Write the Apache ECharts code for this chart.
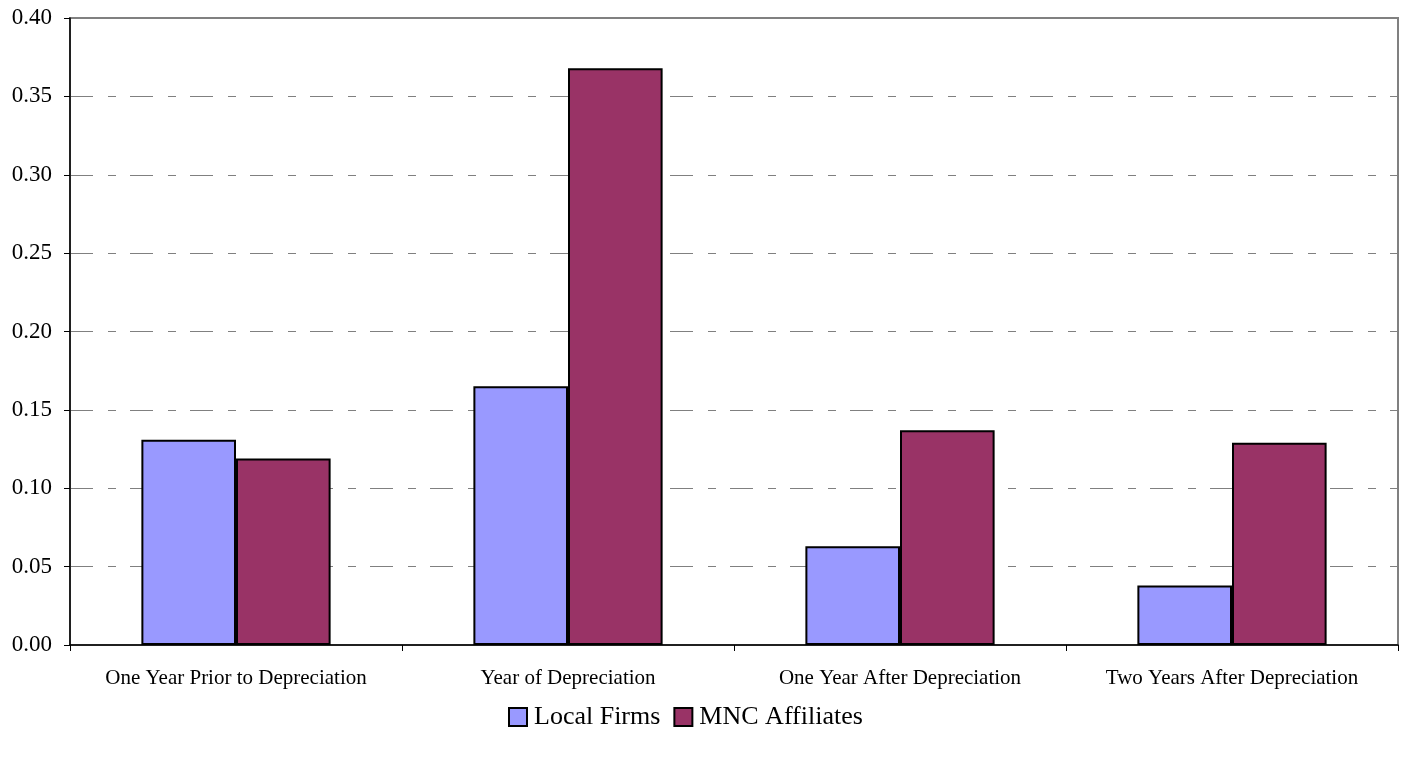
<!DOCTYPE html>
<html>
<head>
<meta charset="utf-8">
<script src="https://cdn.jsdelivr.net/npm/echarts@6/dist/echarts.min.js"></script>
<style>
html, body { margin: 0; padding: 0; background: #fff; }
#chart { width: 1403px; height: 757px; }
</style>
</head>
<body>
<div id="chart"></div>
<script>
// categories and values
var categories = ['One Year Prior to Depreciation', 'Year of Depreciation', 'One Year After Depreciation', 'Two Years After Depreciation'];
var localFirms = [0.131, 0.165, 0.063, 0.038];
var mncAffiliates = [0.119, 0.368, 0.137, 0.129];

var myChart = echarts.init(document.getElementById('chart'));
var serif = '"Liberation Serif", "Times New Roman", serif';

var option = {
	animation: false,
	backgroundColor: '#fff',
	textStyle: { fontFamily: serif },
	grid: {
		left: 70, right: 5, top: 18, bottom: 112,
		show: true, borderColor: '#808080', borderWidth: 2, backgroundColor: 'transparent'
	},
	legend: {
		bottom: 22,
		left: 503,
		itemWidth: 18, itemHeight: 18, itemGap: 13,
		icon: 'rect',
		textStyle: { fontFamily: serif, fontSize: 26, color: '#000', padding: [0, 0, 0, 2] },
		data: [
			{ name: 'Local Firms', itemStyle: { borderColor: '#000', borderWidth: 2 } },
			{ name: 'MNC Affiliates', itemStyle: { borderColor: '#000', borderWidth: 2 } }
		]
	},
	xAxis: {
		type: 'category',
		data: categories,
		axisLine: { lineStyle: { color: '#000', width: 1.5 } },
		axisTick: { show: true, length: 6, lineStyle: { color: '#000' } },
		axisLabel: { fontFamily: serif, fontSize: 21, color: '#000', margin: 23, interval: 0 },
		splitLine: { show: false }
	},
	yAxis: {
		type: 'value',
		min: 0, max: 0.4, interval: 0.05,
		axisLine: { show: true, lineStyle: { color: '#000', width: 1.5 } },
		axisTick: { show: true, length: 6, lineStyle: { color: '#000' } },
		axisLabel: {
			fontFamily: serif, fontSize: 23, color: '#000', margin: 18,
			formatter: function (v) { return v.toFixed(2); }
		},
		splitLine: {
			show: true,
			lineStyle: { color: '#808080', width: 1, type: [23, 15, 8, 14] }
		}
	},
	series: [
		{
			name: 'Local Firms',
			type: 'bar',
			data: localFirms,
			barGap: '0%',
			barCategoryGap: '43%',
			itemStyle: { color: '#9999ff', borderColor: '#000', borderWidth: 2 }
		},
		{
			name: 'MNC Affiliates',
			type: 'bar',
			data: mncAffiliates,
			barGap: '0%',
			barCategoryGap: '43%',
			itemStyle: { color: '#993366', borderColor: '#000', borderWidth: 2 }
		}
	]
};
myChart.setOption(option);
</script>
</body>
</html>
